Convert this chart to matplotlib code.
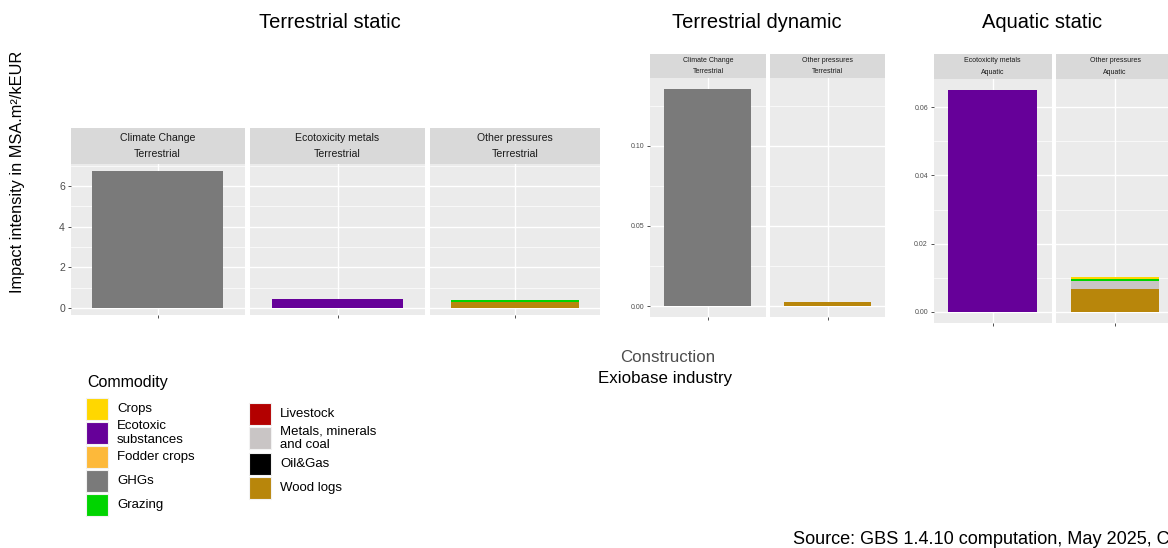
import numpy as np
import matplotlib
matplotlib.use("Agg")
import matplotlib.pyplot as plt
from matplotlib.patches import Rectangle

plt.rcParams['font.family'] = ['Liberation Sans', 'DejaVu Sans']

W, H = 1168, 548

# commodity order as in the legend (first level is drawn on top of a stack)
commodities = ["Crops", "Ecotoxic substances", "Fodder crops", "GHGs", "Grazing",
               "Livestock", "Metals, minerals and coal", "Oil&Gas", "Wood logs"]
legend_labels = ["Crops", "Ecotoxic\nsubstances", "Fodder crops", "GHGs", "Grazing",
                 "Livestock", "Metals, minerals\nand coal", "Oil&Gas", "Wood logs"]
colors = ["#FFD700", "#660099", "#FDB93A", "#7A7A7A", "#00D400",
          "#B30000", "#C9C5C5", "#000000", "#B8860B"]

# impact intensity per facet (MSA.m2/kEUR), by commodity
ts_climate = {"GHGs": 6.75}
ts_ecotox = {"Ecotoxic substances": 0.45}
ts_other = {"Grazing": 0.1, "Wood logs": 0.3}
td_climate = {"GHGs": 0.1355}
td_other = {"Wood logs": 0.0025}
as_ecotox = {"Ecotoxic substances": 0.065}
as_other = {"Crops": 0.0007, "Grazing": 0.0004,
            "Metals, minerals and coal": 0.0023, "Wood logs": 0.0068}

ts_ticks = [0, 2, 4, 6]
td_ticks = [0.00, 0.05, 0.10]
as_ticks = [0.00, 0.02, 0.04, 0.06]


def rect(x0, y0, x1, y1):
    return [x0 / W, 1 - y1 / H, (x1 - x0) / W, (y1 - y0) / H]


groups = [
    dict(title="Terrestrial static", tx=330,
         strip=(128, 164), bottom=315,
         panels=[("Climate Change\nTerrestrial", ts_climate, 70.5, 244.5),
                 ("Ecotoxicity metals\nTerrestrial", ts_ecotox, 250, 425),
                 ("Other pressures\nTerrestrial", ts_other, 430, 600)],
         ticks=ts_ticks, fmt="{:.0f}", tick_fs=7.6, strip_fs=7.6),
    dict(title="Terrestrial dynamic", tx=757,
         strip=(54, 78), bottom=317,
         panels=[("Climate Change\nTerrestrial", td_climate, 650, 766),
                 ("Other pressures\nTerrestrial", td_other, 770, 885)],
         ticks=td_ticks, fmt="{:.2f}", tick_fs=5.0, strip_fs=5.0),
    dict(title="Aquatic static", tx=1042,
         strip=(54, 79), bottom=323,
         panels=[("Ecotoxicity metals\nAquatic", as_ecotox, 933.5, 1051.5),
                 ("Other pressures\nAquatic", as_other, 1056, 1174)],
         ticks=as_ticks, fmt="{:.2f}", tick_fs=5.0, strip_fs=5.0),
]

fig = plt.figure(figsize=(W / 100, H / 100), dpi=100)
fig.patch.set_facecolor("white")

for g in groups:
    totals = [sum(d.values()) for _, d, _, _ in g["panels"]]
    top = max(totals)
    pad = 0.05 * top
    ylim = (-pad, top + pad)
    step = g["ticks"][1] - g["ticks"][0]
    minors = [t + step / 2 for t in [g["ticks"][0] - step] + g["ticks"]]
    minors = [m for m in minors if ylim[0] <= m <= ylim[1]]
    s0, s1 = g["strip"]

    for i, (strip_txt, stack, x0, x1) in enumerate(g["panels"]):
        ax = fig.add_axes(rect(x0, s1, x1, g["bottom"]))
        ax.set_facecolor("#EBEBEB")
        for sp in ax.spines.values():
            sp.set_visible(False)
        ax.set_xlim(0.4, 1.6)
        ax.set_ylim(*ylim)
        ax.set_axisbelow(True)
        for m in minors:
            ax.axhline(m, color="white", lw=0.5, zorder=0)
        for t in g["ticks"]:
            ax.axhline(t, color="white", lw=1.0, zorder=0)
        ax.axvline(1, color="white", lw=1.0, zorder=0)

        # stacked bar, last commodity level at the bottom
        base = 0.0
        for name, col in reversed(list(zip(commodities, colors))):
            v = stack.get(name, 0)
            if v > 0:
                ax.bar(1, v, width=0.9, bottom=base, color=col, linewidth=0, zorder=2)
                base += v

        ax.set_xticks([1])
        ax.set_xticklabels([""])
        ax.tick_params(axis="x", length=2.5, color="#333333", width=0.6)
        if i == 0:
            ax.set_yticks(g["ticks"])
            ax.set_yticklabels([g["fmt"].format(t) for t in g["ticks"]])
            ax.tick_params(axis="y", length=2.5, color="#333333", width=0.6,
                           labelsize=g["tick_fs"], labelcolor="#4D4D4D", pad=1.5)
        else:
            ax.set_yticks(g["ticks"])
            ax.tick_params(axis="y", length=0, labelleft=False)

        sax = fig.add_axes(rect(x0, s0, x1, s1))
        sax.set_facecolor("#D9D9D9")
        sax.set_xticks([])
        sax.set_yticks([])
        for sp in sax.spines.values():
            sp.set_visible(False)
        l1, l2 = strip_txt.split("\n")
        sax.text(0.5, 0.72, l1, ha="center", va="center", fontsize=g["strip_fs"],
                 color="#1A1A1A", transform=sax.transAxes)
        sax.text(0.5, 0.27, l2, ha="center", va="center", fontsize=g["strip_fs"],
                 color="#1A1A1A", transform=sax.transAxes)

    fig.text(g["tx"] / W, 1 - 22 / H, g["title"], ha="center", va="center", fontsize=14.5)

# shared axis titles
fig.text(18 / W, 1 - 172 / H, "Impact intensity in MSA.m²/kEUR", rotation=90,
         ha="center", va="center", fontsize=11.8)
fig.text(668 / W, 1 - 357 / H, "Construction", ha="center", va="center",
         fontsize=12.2, color="#4D4D4D")
fig.text(665 / W, 1 - 378 / H, "Exiobase industry", ha="center", va="center",
         fontsize=12.2)

# legend, drawn in pixel space on an overlay
lax = fig.add_axes([0, 0, 1, 1], zorder=-1)
lax.set_xlim(0, W)
lax.set_ylim(H, 0)
lax.axis("off")
lax.text(87, 382, "Commodity", ha="left", va="center", fontsize=11.5)
key_pos = [(86, 398), (86, 422), (86, 446), (86, 470), (86, 494),
           (249, 403), (249, 427), (249, 453), (249, 477)]
for (kx, ky), lab, col in zip(key_pos, legend_labels, colors):
    lax.add_patch(Rectangle((kx, ky), 22, 22, facecolor=col, edgecolor="#F2F2F2", lw=0.8))
    lax.text(kx + 31, ky + 11, lab, ha="left", va="center", fontsize=9.5,
             linespacing=1.15)

fig.text(793 / W, 1 - 540 / H, "Source: GBS 1.4.10 computation, May 2025, CDC Biodiversité",
         ha="left", va="center", fontsize=13.1)

fig.savefig("out.png", dpi=100)
